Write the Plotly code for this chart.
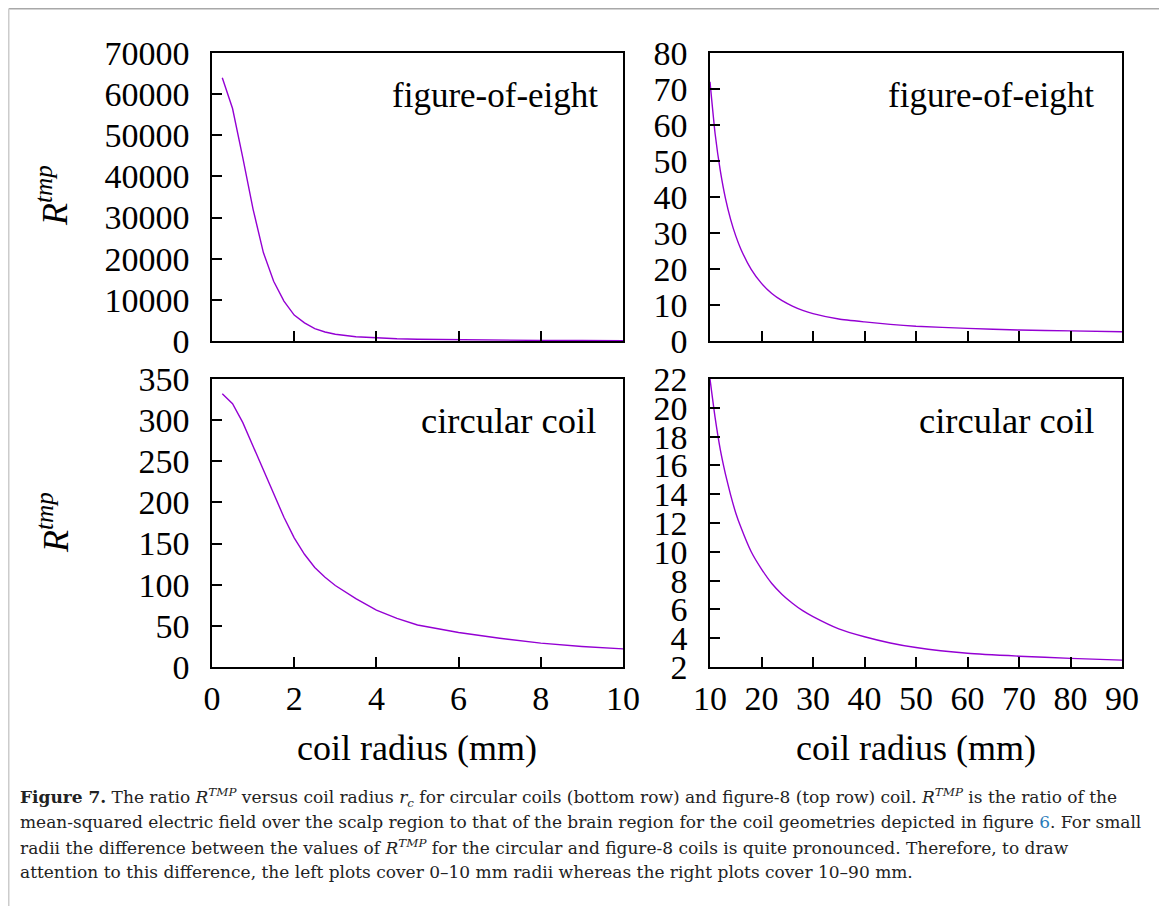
import plotly.graph_objects as go

# ---------------- data ----------------
r_small = [0.25, 0.5, 0.75, 1.0, 1.25, 1.5, 1.75, 2.0, 2.25, 2.5, 2.75, 3.0,
           3.5, 4.0, 4.5, 5.0, 6.0, 7.0, 8.0, 9.0, 10.0]
fig8_small = [64000, 56500, 44500, 32000, 21500, 14500, 9700, 6300, 4400, 3000,
              2200, 1650, 1050, 750, 550, 420, 270, 190, 140, 105, 80]
circ_small = [332, 320, 297, 268, 240, 210, 182, 157, 137, 121, 109, 99,
              83, 69, 59, 51, 42, 35, 29, 25, 22]

r_large = [10, 11, 12, 13, 14, 15, 16, 18, 20, 22, 24, 26, 28, 30, 35, 40, 45,
           50, 60, 70, 80, 90]
fig8_large = [72, 57.5, 47.3, 39.6, 33.8, 29.2, 25.5, 19.9, 16.0, 13.2, 11.2, 9.7,
              8.5, 7.6, 6.1, 5.3, 4.62, 4.1, 3.5, 3.05, 2.8, 2.55]
circ_large = [22, 19.3, 17.1, 15.4, 13.95, 12.7, 11.7, 10.0, 8.8, 7.8, 7.04, 6.43,
              5.91, 5.5, 4.65, 4.1, 3.67, 3.35, 2.95, 2.75, 2.6, 2.48]

xticks_small = [0, 2, 4, 6, 8, 10]
xticks_large = [10, 20, 30, 40, 50, 60, 70, 80, 90]
yticks_tl = [0, 10000, 20000, 30000, 40000, 50000, 60000, 70000]
yticks_tr = [0, 10, 20, 30, 40, 50, 60, 70, 80]
yticks_bl = [0, 50, 100, 150, 200, 250, 300, 350]
yticks_br = [2, 4, 6, 8, 10, 12, 14, 16, 18, 20, 22]

panel_labels = ["figure-of-eight", "figure-of-eight", "circular coil", "circular coil"]
x_title = "coil radius (mm)"
y_title = "<i>R</i><sup><i>tmp</i></sup>"

caption_lines = [
    "<b>Figure 7.</b> The ratio <i>R</i><sup><i>TMP</i></sup> versus coil radius <i>r</i><sub><i>c</i></sub> for circular coils (bottom row) and figure-8 (top row) coil. <i>R</i><sup><i>TMP</i></sup> is the ratio of the",
    "mean-squared electric field over the scalp region to that of the brain region for the coil geometries depicted in figure <span style='color:#2a7ab8'>6</span>. For small",
    "radii the difference between the values of <i>R</i><sup><i>TMP</i></sup> for the circular and figure-8 coils is quite pronounced. Therefore, to draw",
    "attention to this difference, the left plots cover 0\u201310 mm radii whereas the right plots cover 10\u201390 mm.",
]

# ---------------- layout helpers ----------------
W, H = 1167, 906
OFF = 8  # page body margin in the browser
def px(x):
    return (x - OFF) / W
def py(y):
    return 1 - (y - OFF) / H

LINE = "#9400D3"
FONT = "Liberation Serif"
CAPFONT = "DejaVu Serif"
TICKFS = 34

fig = go.Figure()
fig.add_trace(go.Scatter(x=r_small, y=fig8_small, mode="lines", xaxis="x", yaxis="y",
                         line=dict(color=LINE, width=1.4), showlegend=False))
fig.add_trace(go.Scatter(x=r_large, y=fig8_large, mode="lines", xaxis="x2", yaxis="y2",
                         line=dict(color=LINE, width=1.4, shape="spline", smoothing=0.5),
                         showlegend=False))
fig.add_trace(go.Scatter(x=r_small, y=circ_small, mode="lines", xaxis="x3", yaxis="y3",
                         line=dict(color=LINE, width=1.4), showlegend=False))
fig.add_trace(go.Scatter(x=r_large, y=circ_large, mode="lines", xaxis="x4", yaxis="y4",
                         line=dict(color=LINE, width=1.4, shape="spline", smoothing=0.5),
                         showlegend=False))

common = dict(showline=True, linecolor="black", linewidth=1.5, mirror=True,
              ticks="inside", ticklen=10, tickwidth=1.5, tickcolor="black",
              showgrid=False, zeroline=False, automargin=False,
              tickfont=dict(family=FONT, size=TICKFS, color="black"))

xl = [px(212), px(623)]
xr = [px(710), px(1122)]
yt = [py(341), py(53)]
yb = [py(667), py(379)]

def xa(domain, anchor, ticks, rng, labels):
    d = dict(common)
    d.update(domain=domain, anchor=anchor, range=rng, tickvals=ticks,
             ticktext=[str(t) for t in ticks], showticklabels=labels,
             ticklabelstandoff=0)
    return d

def ya(domain, anchor, ticks, rng):
    d = dict(common)
    d.update(domain=domain, anchor=anchor, range=rng, tickvals=ticks,
             ticktext=[str(t) for t in ticks], ticklabelstandoff=14)
    return d

fig.update_layout(
    template="none",
    width=W, height=H, margin=dict(l=0, r=0, t=0, b=0, pad=0), autosize=False,
    paper_bgcolor="white", plot_bgcolor="white", showlegend=False,
    xaxis=xa(xl, "y", xticks_small, [0, 10], False),
    yaxis=ya(yt, "x", yticks_tl, [0, 70000]),
    xaxis2=xa(xr, "y2", xticks_large, [10, 90], False),
    yaxis2=ya(yt, "x2", yticks_tr, [0, 80]),
    xaxis3=xa(xl, "y3", xticks_small, [0, 10], True),
    yaxis3=ya(yb, "x3", yticks_bl, [0, 350]),
    xaxis4=xa(xr, "y4", xticks_large, [10, 90], True),
    yaxis4=ya(yb, "x4", yticks_br, [2, 22]),
)

ann = []
# panel labels
lab_pos = [(600, 95, 35), (1096, 95, 35), (598, 420, 36.5), (1096, 420, 36.5)]
for t, (x, y, fs) in zip(panel_labels, lab_pos):
    ann.append(dict(text=t, x=px(x), y=py(y), xref="paper", yref="paper",
                    xanchor="right", yanchor="middle", showarrow=False,
                    font=dict(family=FONT, size=fs, color="black")))
# x titles
for xc in (417, 916):
    ann.append(dict(text=x_title, x=px(xc), y=py(748), xref="paper", yref="paper",
                    xanchor="center", yanchor="middle", showarrow=False,
                    font=dict(family=FONT, size=36, color="black")))
# y titles
for yc in (196, 523):
    ann.append(dict(text=y_title, x=px(53), y=py(yc), xref="paper", yref="paper",
                    xanchor="center", yanchor="middle", textangle=-90, showarrow=False,
                    font=dict(family=FONT, size=36, color="black")))
# caption
for i, line in enumerate(caption_lines):
    ann.append(dict(text=line, x=px(18), y=py(797 + 25 * i), xref="paper", yref="paper",
                    xanchor="left", yanchor="middle", showarrow=False,
                    font=dict(family=CAPFONT, size=17, color="#222222")))
fig.update_layout(annotations=ann)

# page frame
fig.add_shape(type="line", xref="paper", yref="paper", x0=px(8.75), x1=px(1163),
              y0=py(8.75), y1=py(8.75), line=dict(color="#a8a8a8", width=1.5))
fig.add_shape(type="line", xref="paper", yref="paper", x0=px(8.75), x1=px(8.75),
              y0=py(8.75), y1=0, line=dict(color="#cccccc", width=1.5))
fig.add_shape(type="line", xref="paper", yref="paper", x0=px(1163), x1=px(1163),
              y0=py(8.75), y1=0, line=dict(color="#cccccc", width=1.5))

fig.write_html("out.html")
